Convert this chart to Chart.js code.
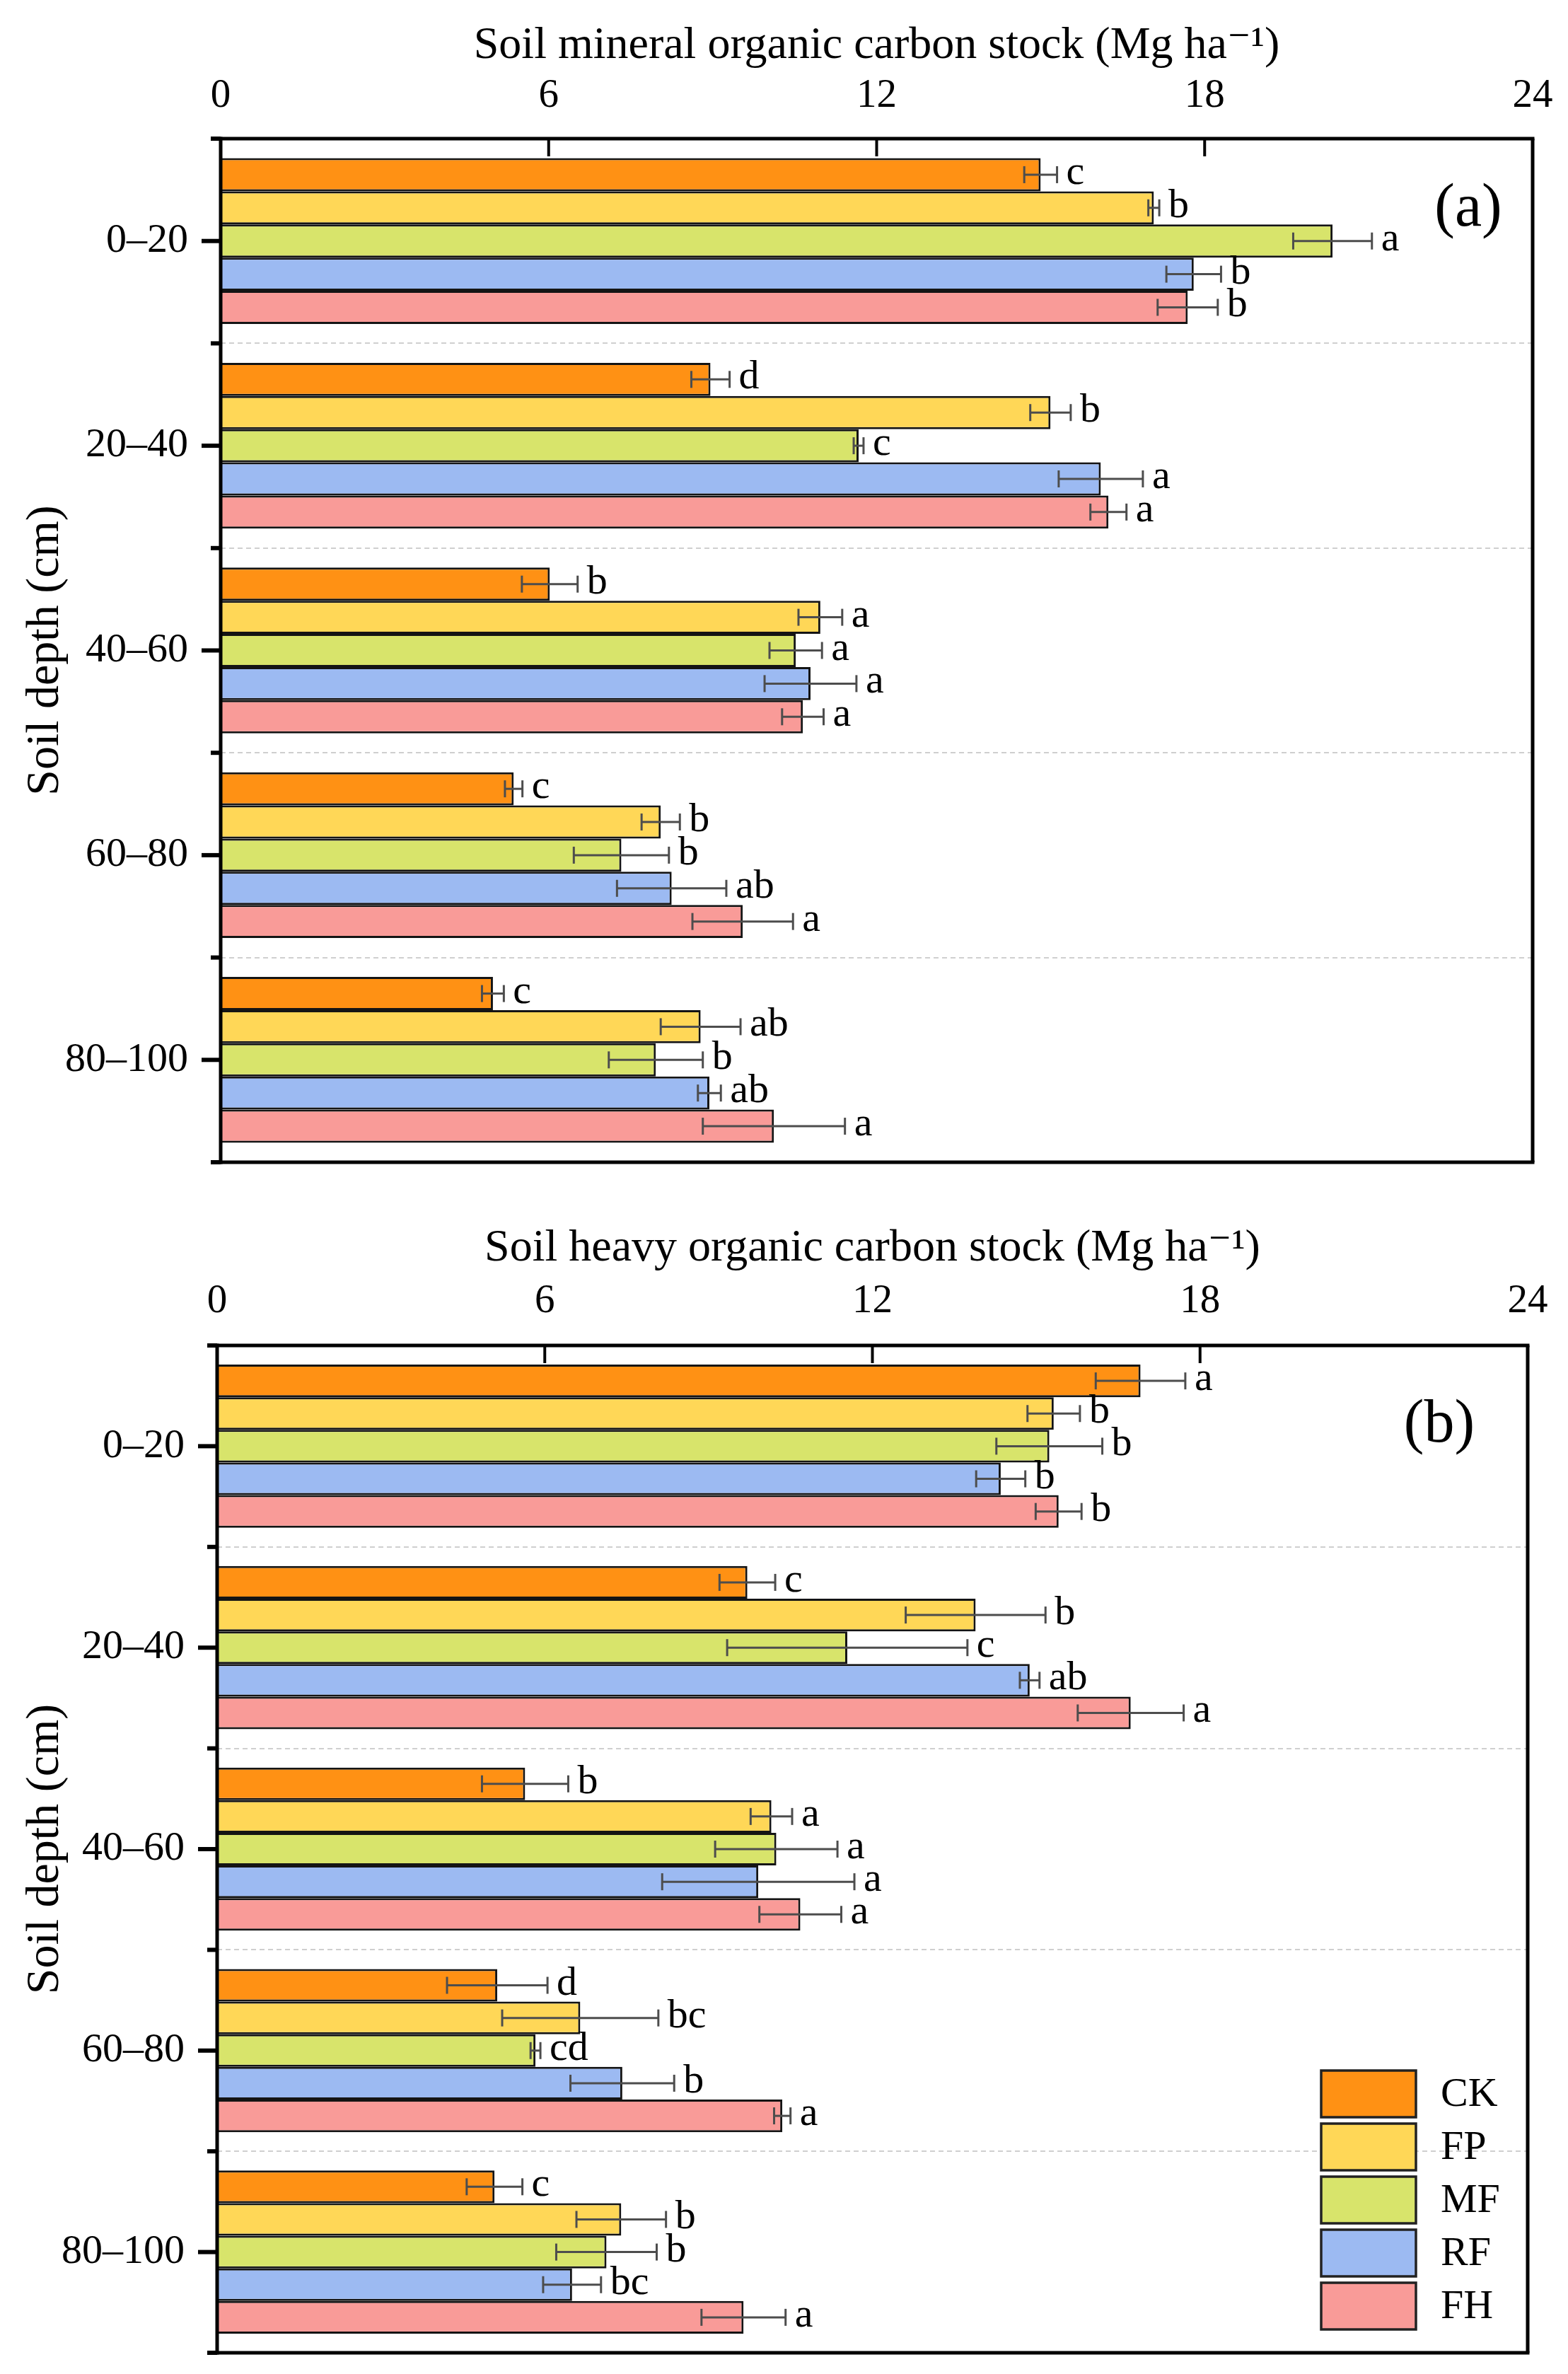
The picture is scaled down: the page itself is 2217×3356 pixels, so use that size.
<!DOCTYPE html>
<html>
<head>
<meta charset="utf-8">
<script src="https://cdn.jsdelivr.net/npm/chart.js"></script>
<style>
html,body{margin:0;padding:0;background:#fff;}
canvas{position:absolute;left:0;display:block;}
</style>
</head>
<body>
<canvas id="ca" width="2217" height="1690" style="top:0px"></canvas>
<canvas id="cb" width="2217" height="1666" style="top:1690px"></canvas>
<script>
// ---------- data ----------
const depths = ['0\u201320', '20\u201340', '40\u201360', '60\u201380', '80\u2013100'];
const treatments = ['CK', 'FP', 'MF', 'RF', 'FH'];
const colors = ['#FF9114', '#FFD757', '#D8E46B', '#9CBAF2', '#F99B98'];
const xTickValues = [0, 6, 12, 18, 24];

// (a) Soil mineral organic carbon stock
const minCK = [15.00, 8.96, 6.02, 5.36, 4.98];
const minFP = [17.07, 15.18, 10.97, 8.05, 8.78];
const minMF = [20.34, 11.67, 10.52, 7.33, 7.96];
const minRF = [17.80, 16.10, 10.79, 8.25, 8.94];
const minFH = [17.69, 16.24, 10.65, 9.55, 10.12];
const minCKErr = [0.30, 0.35, 0.51, 0.16, 0.20];
const minFPErr = [0.10, 0.37, 0.40, 0.35, 0.73];
const minMFErr = [0.72, 0.09, 0.48, 0.87, 0.86];
const minRFErr = [0.50, 0.77, 0.84, 1.00, 0.21];
const minFHErr = [0.55, 0.33, 0.38, 0.92, 1.30];
const minCKSig = ['c', 'd', 'b', 'c', 'c'];
const minFPSig = ['b', 'b', 'a', 'b', 'ab'];
const minMFSig = ['a', 'c', 'a', 'b', 'b'];
const minRFSig = ['b', 'a', 'a', 'ab', 'ab'];
const minFHSig = ['b', 'a', 'a', 'a', 'a'];

// (b) Soil heavy organic carbon stock
const hvCK = [16.91, 9.71, 5.64, 5.13, 5.08];
const hvFP = [15.32, 13.89, 10.15, 6.65, 7.40];
const hvMF = [15.24, 11.54, 10.24, 5.83, 7.13];
const hvRF = [14.35, 14.88, 9.91, 7.42, 6.50];
const hvFH = [15.41, 16.73, 10.68, 10.35, 9.64];
const hvCKErr = [0.82, 0.51, 0.79, 0.92, 0.51];
const hvFPErr = [0.48, 1.28, 0.38, 1.43, 0.82];
const hvMFErr = [0.97, 2.20, 1.12, 0.09, 0.92];
const hvRFErr = [0.45, 0.18, 1.76, 0.95, 0.53];
const hvFHErr = [0.42, 0.97, 0.75, 0.15, 0.77];
const hvCKSig = ['a', 'c', 'b', 'd', 'c'];
const hvFPSig = ['b', 'b', 'a', 'bc', 'b'];
const hvMFSig = ['b', 'c', 'a', 'cd', 'b'];
const hvRFSig = ['b', 'ab', 'a', 'b', 'bc'];
const hvFHSig = ['b', 'a', 'a', 'a', 'a'];

const titleA = 'Soil mineral organic carbon stock (Mg ha\u207B\u00B9)';
const titleB = 'Soil heavy organic carbon stock (Mg ha\u207B\u00B9)';
const yTitle = 'Soil depth (cm)';

// ---------- drawing ----------
const FONT = '"Liberation Serif", "Times New Roman", "DejaVu Serif", serif';
Chart.defaults.font.family = FONT;
Chart.defaults.color = '#000';

function line(ctx, x1, y1, x2, y2) {
  ctx.beginPath(); ctx.moveTo(x1, y1); ctx.lineTo(x2, y2); ctx.stroke();
}

const decor = {
  id: 'decor',
  afterDatasetsDraw(chart) {
    const {ctx, scales: {x}} = chart;
    ctx.save();
    chart.data.datasets.forEach((ds, di) => {
      const meta = chart.getDatasetMeta(di);
      meta.data.forEach((bar, i) => {
        const v = ds.data[i], e = ds.errors[i];
        const x1 = x.getPixelForValue(v - e), x2 = x.getPixelForValue(v + e);
        const yc = bar.y;
        ctx.strokeStyle = '#4d4d4d';
        ctx.lineWidth = 3;
        line(ctx, x1, yc, x2, yc);
        line(ctx, x1, yc - 12, x1, yc + 12);
        line(ctx, x2, yc - 12, x2, yc + 12);
        ctx.fillStyle = '#000';
        ctx.font = '58px ' + FONT;
        ctx.textAlign = 'left';
        ctx.textBaseline = 'alphabetic';
        ctx.fillText(ds.letters[i], x2 + 13, yc + 13);
      });
    });
    ctx.restore();
  },
  afterDraw(chart, args, opts) {
    const {ctx, chartArea: ca, scales: {x, y}} = chart;
    ctx.save();
    ctx.strokeStyle = '#000';
    ctx.lineCap = 'butt';
    // inward x ticks
    ctx.lineWidth = 4;
    xTickValues.forEach(v => {
      const px = x.getPixelForValue(v);
      line(ctx, px, ca.top, px, ca.top + 25);
    });
    // y major ticks at categories, minor ticks at boundaries
    ctx.lineWidth = 6;
    const n = chart.data.labels.length;
    for (let i = 0; i < n; i++) {
      const py = y.getPixelForValue(i);
      line(ctx, ca.left - 27, py, ca.left, py);
    }
    for (let i = 0; i <= n; i++) {
      const py = y.getPixelForGridLine ? y.getPixelForGridLine(i) : ca.top + (ca.bottom - ca.top) * i / n;
      line(ctx, ca.left - 14, py, ca.left, py);
    }
    // frame
    ctx.lineWidth = 5;
    line(ctx, ca.left - 14, ca.top, ca.right + 2.5, ca.top);
    line(ctx, ca.left - 14, ca.bottom, ca.right + 2.5, ca.bottom);
    line(ctx, ca.left, ca.top - 2.5, ca.left, ca.bottom + 2.5);
    line(ctx, ca.right, ca.top, ca.right, ca.bottom);
    // panel label
    ctx.fillStyle = '#000';
    ctx.font = '86px ' + FONT;
    ctx.textAlign = 'center';
    ctx.textBaseline = 'alphabetic';
    ctx.fillText(opts.label, ca.right - opts.labelDx, ca.top + opts.labelDy);
    // legend
    if (opts.legend) {
      chart.data.datasets.forEach((ds, i) => {
        const bx = ca.right - 292, by = ca.bottom - 399 + i * 75;
        ctx.fillStyle = ds.backgroundColor;
        ctx.fillRect(bx, by, 134, 66);
        ctx.strokeStyle = '#222';
        ctx.lineWidth = 3.5;
        ctx.strokeRect(bx, by, 134, 66);
        ctx.fillStyle = '#000';
        ctx.font = '58px ' + FONT;
        ctx.textAlign = 'left';
        ctx.textBaseline = 'middle';
        ctx.fillText(ds.label, bx + 169, by + 35);
      });
    }
    ctx.restore();
  }
};

function buildDatasets(vals, errs, sigs) {
  return treatments.map((t, i) => ({
    label: t,
    data: vals[i],
    errors: errs[i],
    letters: sigs[i],
    backgroundColor: colors[i],
    borderColor: '#141414',
    borderWidth: 3,
    borderSkipped: 'start',
    categoryPercentage: 0.81,
    barPercentage: 1.0
  }));
}

function makeChart(id, title, datasets, cfg) {
  return new Chart(document.getElementById(id), {
    type: 'bar',
    data: {labels: depths, datasets: datasets},
    options: {
      indexAxis: 'y',
      responsive: false,
      animation: false,
      devicePixelRatio: 1,
      layout: {padding: {top: 0, left: 0, right: cfg.padRight, bottom: cfg.padBottom}},
      plugins: {legend: {display: false}, tooltip: {enabled: false}, decor: cfg.decor},
      scales: {
        x: {
          type: 'linear', position: 'top', min: 0, max: 24,
          ticks: {stepSize: 6, padding: cfg.tickPad, color: '#000', font: {size: 57}},
          grid: {display: false, drawTicks: false},
          border: {display: false},
          title: {display: true, text: title, color: '#000', font: {size: 64}, padding: {top: cfg.titlePad, bottom: 0}},
          afterFit(s) { s.height = cfg.xHeight; s.paddingLeft = 0; s.paddingRight = 0; }
        },
        y: {
          type: 'category', position: 'left', offset: true,
          ticks: {padding: 46, color: '#000', font: {size: 58}},
          grid: {display: true, offset: true, drawTicks: false, color: '#cfcfcf', lineWidth: 2},
          border: {display: false, dash: [7, 5]},
          title: {display: true, text: yTitle, color: '#000', font: {size: 66}, padding: {top: 25, bottom: 0}},
          afterFit(s) { s.width = cfg.yWidth; s.paddingTop = 0; s.paddingBottom = 0; }
        }
      }
    },
    plugins: [decor]
  });
}

makeChart('ca', titleA,
  buildDatasets([minCK, minFP, minMF, minRF, minFH],
                [minCKErr, minFPErr, minMFErr, minRFErr, minFHErr],
                [minCKSig, minFPSig, minMFSig, minRFSig, minFHSig]),
  {padRight: 50, padBottom: 47, xHeight: 196, yWidth: 312, tickPad: 26, titlePad: 27,
   decor: {label: '(a)', labelDx: 91, labelDy: 123, legend: false}});

makeChart('cb', titleB,
  buildDatasets([hvCK, hvFP, hvMF, hvRF, hvFH],
                [hvCKErr, hvFPErr, hvMFErr, hvRFErr, hvFHErr],
                [hvCKSig, hvFPSig, hvMFSig, hvRFSig, hvFHSig]),
  {padRight: 57, padBottom: 30, xHeight: 212, yWidth: 307, tickPad: 28, titlePad: 37,
   decor: {label: '(b)', labelDx: 125, labelDy: 136, legend: true}});
</script>
</body>
</html>
